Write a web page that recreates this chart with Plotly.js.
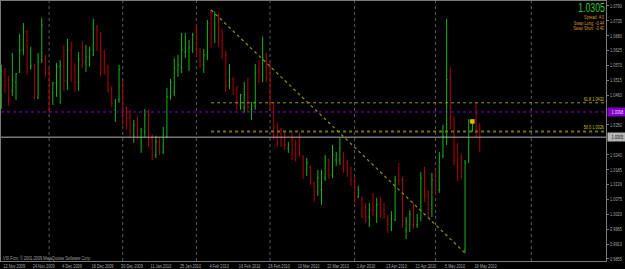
<!DOCTYPE html>
<html><head><meta charset="utf-8">
<script src="https://cdn.plot.ly/plotly-3.0.1.min.js"></script>
<style>html,body{margin:0;padding:0;background:#000;}#chart{width:625px;height:269px;}</style>
</head><body><div id="chart"></div>
<script>
// Daily bars, oldest first
const openP = [
1.0461,1.0546,1.0517,1.0476,1.0509,1.0546,1.0627,1.0694,1.0561,1.0572,
1.0450,1.0590,1.0598,1.0554,1.0469,1.0505,1.0565,1.0568,1.0513,1.0627,
1.0550,1.0509,1.0609,1.0583,1.0601,1.0609,1.0712,1.0683,1.0620,1.0561,
1.0480,1.0406,1.0443,1.0509,1.0413,1.0376,1.0313,1.0361,1.0302,1.0324,
1.0387,1.0302,1.0239,1.0287,1.0250,1.0306,1.0454,1.0472,1.0554,1.0561,
1.0620,1.0583,1.0627,1.0701,1.0627,1.0572,1.0609,1.0768,1.0701,1.0753,
1.0664,1.0620,1.0494,1.0517,1.0487,1.0424,1.0413,1.0461,1.0406,1.0420,
1.0554,1.0535,1.0590,1.0572,1.0413,1.0313,1.0332,1.0313,1.0265,1.0295,
1.0276,1.0295,1.0232,1.0184,1.0195,1.0136,1.0103,1.0110,1.0154,1.0221,
1.0165,1.0221,1.0221,1.0239,1.0210,1.0191,1.0147,1.0084,1.0080,1.0029,
1.0010,1.0055,1.0018,1.0055,1.0036,1.0010,0.9970,0.9999,1.0165,1.0147,
0.9962,0.9981,1.0036,0.9981,1.0006,1.0165,1.0091,1.0055,1.0184,1.0110,
1.0236,1.0306,1.0520,1.0369,1.0258,1.0228,0.9888,1.0213,1.0332,1.0369,
1.0339];
const highP = [
1.0572,1.0561,1.0531,1.0616,1.0542,1.0687,1.0727,1.0701,1.0639,1.0576,
1.0616,1.0746,1.0609,1.0557,1.0509,1.0579,1.0590,1.0646,1.0668,1.0657,
1.0579,1.0620,1.0657,1.0646,1.0639,1.0742,1.0720,1.0694,1.0627,1.0572,
1.0494,1.0446,1.0572,1.0513,1.0417,1.0406,1.0369,1.0380,1.0339,1.0409,
1.0406,1.0317,1.0310,1.0306,1.0343,1.0487,1.0520,1.0598,1.0609,1.0690,
1.0690,1.0664,1.0690,1.0720,1.0635,1.0631,1.0738,1.0775,1.0768,1.0761,
1.0705,1.0624,1.0576,1.0528,1.0494,1.0465,1.0509,1.0524,1.0435,1.0576,
1.0590,1.0676,1.0616,1.0583,1.0435,1.0358,1.0339,1.0324,1.0287,1.0321,
1.0295,1.0321,1.0239,1.0228,1.0199,1.0140,1.0184,1.0184,1.0239,1.0225,
1.0276,1.0250,1.0302,1.0250,1.0221,1.0195,1.0158,1.0125,1.0084,1.0062,
1.0062,1.0099,1.0080,1.0084,1.0062,1.0018,1.0032,1.0162,1.0210,1.0158,
1.0010,1.0036,1.0062,1.0021,1.0176,1.0195,1.0110,1.0173,1.0188,1.0250,
1.0350,1.0742,1.0565,1.0384,1.0284,1.0243,1.0221,1.0372,1.0358,1.0432,
1.0358];
const lowP = [
1.0409,1.0469,1.0420,1.0457,1.0443,1.0542,1.0609,1.0535,1.0554,1.0446,
1.0446,1.0579,1.0528,1.0395,1.0424,1.0454,1.0428,1.0476,1.0480,1.0509,
1.0472,1.0476,1.0561,1.0546,1.0565,1.0605,1.0624,1.0531,1.0535,1.0469,
1.0417,1.0361,1.0432,1.0347,1.0332,1.0306,1.0284,1.0295,1.0247,1.0306,
1.0269,1.0221,1.0228,1.0239,1.0243,1.0302,1.0443,1.0457,1.0528,1.0542,
1.0598,1.0550,1.0616,1.0602,1.0561,1.0542,1.0590,1.0635,1.0653,1.0639,
1.0594,1.0472,1.0483,1.0461,1.0406,1.0406,1.0395,1.0398,1.0369,1.0406,
1.0505,1.0509,1.0509,1.0406,1.0295,1.0269,1.0269,1.0258,1.0247,1.0221,
1.0214,1.0232,1.0151,1.0162,1.0128,1.0066,1.0088,1.0055,1.0143,1.0151,
1.0154,1.0199,1.0202,1.0173,1.0158,1.0125,1.0062,1.0080,1.0006,0.9988,
0.9973,1.0014,0.9988,1.0006,1.0006,0.9951,0.9958,0.9995,1.0128,0.9970,
0.9929,0.9955,0.9966,0.9970,0.9995,1.0066,1.0010,1.0010,1.0091,1.0099,
1.0228,1.0276,1.0332,1.0202,1.0140,1.0151,0.9877,1.0210,1.0324,1.0302,
1.0250];
const closeP = [
1.0550,1.0498,1.0443,1.0513,1.0539,1.0627,1.0694,1.0561,1.0568,1.0450,
1.0583,1.0720,1.0554,1.0469,1.0505,1.0565,1.0572,1.0513,1.0627,1.0546,
1.0509,1.0590,1.0590,1.0601,1.0627,1.0705,1.0701,1.0627,1.0561,1.0480,
1.0428,1.0439,1.0554,1.0406,1.0376,1.0324,1.0350,1.0313,1.0328,1.0387,
1.0295,1.0239,1.0287,1.0250,1.0313,1.0454,1.0509,1.0561,1.0572,1.0627,
1.0627,1.0635,1.0683,1.0605,1.0568,1.0609,1.0724,1.0672,1.0757,1.0657,
1.0661,1.0494,1.0517,1.0480,1.0432,1.0461,1.0461,1.0417,1.0420,1.0546,
1.0546,1.0598,1.0517,1.0413,1.0313,1.0287,1.0306,1.0276,1.0276,1.0258,
1.0239,1.0236,1.0184,1.0210,1.0136,1.0103,1.0154,1.0136,1.0213,1.0165,
1.0239,1.0239,1.0265,1.0184,1.0191,1.0147,1.0080,1.0110,1.0010,1.0010,
1.0036,1.0036,1.0055,1.0018,1.0010,0.9992,0.9984,1.0147,1.0143,0.9999,
0.9992,1.0021,0.9981,1.0006,1.0154,1.0091,1.0055,1.0147,1.0128,1.0228,
1.0306,1.0517,1.0380,1.0236,1.0195,1.0188,1.0210,1.0365,1.0350,1.0332,
1.0305];

const xTickBars = [0,8,16,24,32,40,48,56,64,72,80,88,96,104,112,120,128];
const xTickLabels = ['12 Nov 2009','24 Nov 2009','4 Dec 2009','16 Dec 2009','30 Dec 2009','11 Jan 2010','25 Jan 2010','4 Feb 2010','16 Feb 2010','26 Feb 2010','10 Mar 2010','22 Mar 2010','1 Apr 2010','13 Apr 2010','21 Apr 2010','5 May 2010','16 May 2010'];
const yTicks = [0.9855,0.9910,0.9965,1.0020,1.0075,1.0130,1.0185,1.0240,1.0295,1.0350,1.0405,1.0460,1.0515,1.0570,1.0625,1.0680,1.0735,1.0790];
const monthStartBars = [13,33,53,73,96,118,144];
const trendFromBar = 57, trendToBar = 126;
const fibLevels = [0.618, 0.5];
const fibNames = ['61.8', '50.0'];
const alertLevel = 1.0398;
const markBar = [128];
const markPrice = [1.0363];
const infoLines = ['Spread: 4.0', 'Swap Long: -0.44', 'Swap Short: -0.40'];
const copyrightText = 'VSI Fcm, \u00a9 2001-2009 MetaQuotes Software Corp.';

const FONT = '"Liberation Sans", Arial, sans-serif';
const W = 625, H = 269, M = {l: 1, r: 19, t: 1, b: 8, pad: 0};
const plotW = W - M.l - M.r, plotH = H - M.t - M.b;
const xMin = -0.08, xMax = 164.3;
const yMin = 0.98475, yMax = 1.0808;
const pyToPaper = py => 1 - (py - M.t) / plotH;
const barToPx = b => M.l + (b - xMin) / (xMax - xMin) * plotW;
const RIGHT_EDGE = M.l + plotW - 1;
const SQUEEZE = 0.7;

const barIdx = openP.map((_, i) => i);
const lastClose = closeP[closeP.length - 1];
const hiAnchor = highP[trendFromBar], loAnchor = lowP[trendToBar];
const fibPrices = fibLevels.map(f => loAnchor + f * (hiAnchor - loAnchor));
// scale labels hidden under the highlighted price boxes are not drawn
const shownTicks = yTicks.filter(v => Math.abs(v - alertLevel) > 0.0012 && Math.abs(v - lastClose) > 0.0012);

const traces = [{
  type: 'ohlc', x: barIdx, open: openP, high: highP, low: lowP, close: closeP,
  increasing: {line: {color: '#14b814', width: 1}},
  decreasing: {line: {color: '#b40000', width: 1}},
  tickwidth: 0.25, hoverinfo: 'skip', showlegend: false
}, {
  type: 'scatter', mode: 'markers', x: markBar, y: markPrice,
  marker: {symbol: 'square-x', size: 3.5, color: '#d8b800', line: {color: '#d8b800', width: 1}},
  hoverinfo: 'skip', showlegend: false
}];

const shapes = [];
monthStartBars.forEach(b => shapes.push({type: 'line', xref: 'x', yref: 'paper', x0: b, x1: b, y0: 0, y1: 1, layer: 'below',
  line: {color: '#5c5c5c', width: 1, dash: 'dot'}}));
shapes.push({type: 'line', xref: 'paper', yref: 'y', x0: 0, x1: 1, y0: alertLevel, y1: alertLevel,
  line: {color: '#8200c8', width: 1, dash: 'dot'}});
shapes.push({type: 'line', xref: 'paper', yref: 'y', x0: 0, x1: 1, y0: lastClose, y1: lastClose,
  line: {color: '#b4b4b4', width: 1}});
fibPrices.forEach((p, i) => shapes.push({type: 'line', xref: 'x', yref: 'y', x0: trendFromBar, x1: xMax, y0: p, y1: p,
  line: {color: i === 0 ? '#9a9a1c' : '#74740e', width: i === 0 ? 1 : 2, dash: 'dot'}}));
shapes.push({type: 'line', xref: 'x', yref: 'y', x0: trendFromBar, y0: hiAnchor, x1: trendToBar, y1: loAnchor,
  line: {color: '#8e8e12', width: 1.2, dash: 'dot'}});

const small = c => ({family: FONT, size: 5.5, color: c});
const annotations = [], annMeta = [];
function addAnn(a, mode, target) { annotations.push(Object.assign({showarrow: false, borderpad: 0}, a)); annMeta.push({mode, target}); }
xTickBars.forEach((b, i) => addAnn({xref: 'x', yref: 'paper', x: b, y: 0, xanchor: 'left', yanchor: 'top',
  yshift: -1, text: xTickLabels[i], font: small('#a8a8a8')}, 'left', barToPx(b) + 2));
addAnn({xref: 'paper', yref: 'paper', x: 1, y: pyToPaper(7.5), xanchor: 'right', yanchor: 'middle',
  text: lastClose.toFixed(4), font: {family: FONT, size: 12.5, color: '#2ecc2e'}}, 'right', RIGHT_EDGE);
infoLines.forEach((t, i) => addAnn({xref: 'paper', yref: 'paper', x: 1, y: pyToPaper(16.5 + 6 * i), xanchor: 'right', yanchor: 'middle',
  text: t, font: small('#d89a28')}, 'right', RIGHT_EDGE - 1));
fibPrices.forEach((p, i) => addAnn({xref: 'paper', yref: 'y', x: 1, y: p, xanchor: 'right', yanchor: 'bottom',
  text: fibNames[i] + ' ' + p.toFixed(4), font: small('#c8c800')}, 'right', RIGHT_EDGE - 1));
addAnn({xref: 'paper', yref: 'y', x: 1, y: alertLevel, xanchor: 'left', yanchor: 'middle', xshift: 1,
  text: alertLevel.toFixed(4), font: small('#f0d8ff'), bgcolor: '#8200c8', borderpad: 1}, 'mid', 0);
addAnn({xref: 'paper', yref: 'y', x: 1, y: lastClose, xanchor: 'left', yanchor: 'middle', xshift: 1,
  text: lastClose.toFixed(4), font: small('#202020'), bgcolor: '#b4b4b4', borderpad: 1}, 'mid', 0);
addAnn({xref: 'paper', yref: 'paper', x: 0, y: pyToPaper(257.5), xanchor: 'left', yanchor: 'middle',
  text: copyrightText, font: small('#a0a0a0')}, 'left', 3);

const layout = {
  width: W, height: H, margin: M,
  paper_bgcolor: '#000000', plot_bgcolor: '#000000',
  showlegend: false, shapes: shapes, annotations: annotations,
  xaxis: {range: [xMin, xMax], showgrid: false, zeroline: false, showticklabels: false, ticks: '',
    showline: true, mirror: true, linecolor: '#7a7a7a', linewidth: 1, rangeslider: {visible: false}, fixedrange: true},
  yaxis: {range: [yMin, yMax], side: 'right', showgrid: false, zeroline: false,
    tickvals: shownTicks, ticktext: shownTicks.map(v => v.toFixed(4)), tickfont: small('#a8a8a8'),
    ticks: 'outside', ticklen: 2, tickcolor: '#7a7a7a',
    showline: true, mirror: true, linecolor: '#7a7a7a', linewidth: 1, fixedrange: true}
};

// The reference uses a narrow terminal font: squeeze each text horizontally with a
// transform, pinned on its left edge, right edge or centre, then moved to the target edge.
function squeeze(el, mode, target, f) {
  const r = el.getBoundingClientRect();
  const ctm = el.parentNode.getScreenCTM();
  let anchorPx, destPx;
  if (mode === 'left') { anchorPx = r.left; destPx = target; }
  else if (mode === 'right') { anchorPx = r.right; destPx = target; }
  else if (mode === 'start') { anchorPx = r.left; destPx = r.left; }
  else { anchorPx = (r.left + r.right) / 2; destPx = anchorPx; }
  const a = anchorPx - ctm.e, d = destPx - ctm.e;
  const g = document.createElementNS('http://www.w3.org/2000/svg', 'g');
  el.parentNode.insertBefore(g, el);
  g.appendChild(el);
  g.setAttribute('transform', 'translate(' + d.toFixed(2) + ',0) scale(' + f + ',1) translate(' + (-a).toFixed(2) + ',0)');
}

Plotly.newPlot('chart', traces, layout, {staticPlot: true, displayModeBar: false}).then(gd => {
  gd.querySelectorAll('.ytick text').forEach(t => squeeze(t, 'start', 0, SQUEEZE));
  annMeta.forEach((m, i) => {
    const t = gd.querySelector('.annotation[data-index="' + i + '"] text.annotation-text');
    if (t) squeeze(t, m.mode, m.target, SQUEEZE);
  });
});
</script></body></html>
